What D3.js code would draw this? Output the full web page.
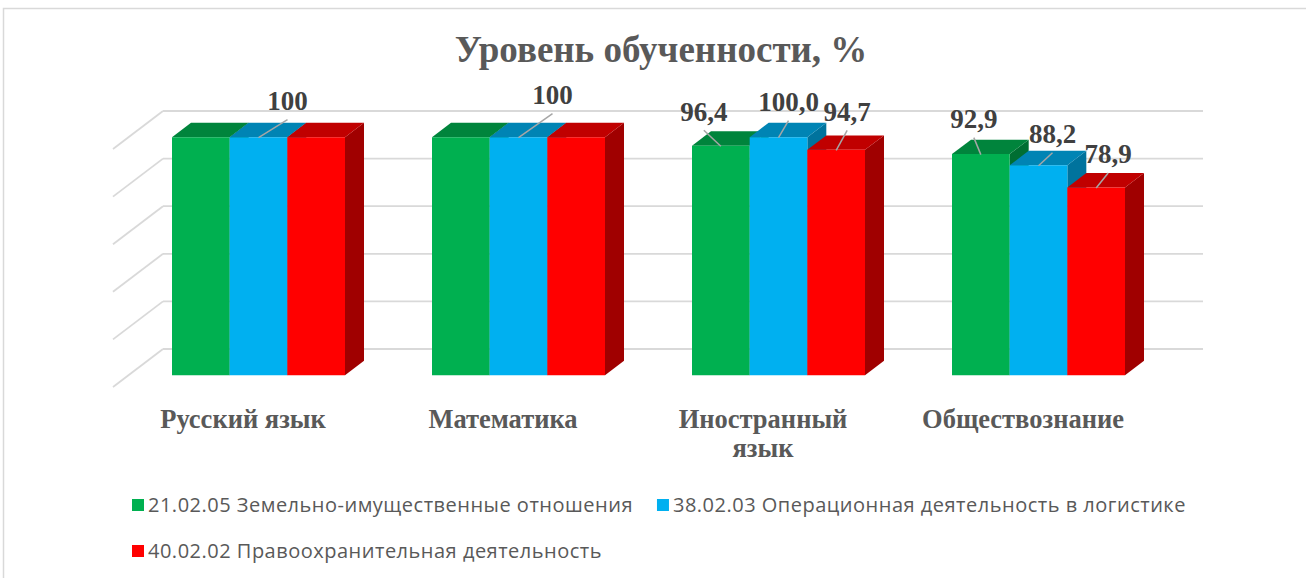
<!DOCTYPE html>
<html>
<head>
<meta charset="utf-8">
<script src="https://d3js.org/d3.v7.min.js"></script>
<style>
  body { margin: 0; background: #fff; }
</style>
</head>
<body>
<div id="my_dataviz"></div>
<script>

// data
var categories = ["Русский язык", "Математика", "Иностранный язык", "Обществознание"];
var seriesNames = [
  "21.02.05 Земельно-имущественные отношения",
  "38.02.03 Операционная деятельность в логистике",
  "40.02.02 Правоохранительная деятельность"
];
var zemelnye   = [100, 100, 96.4, 92.9];
var logistika  = [100, 100, 100.0, 88.2];
var pravo      = [100, 100, 94.7, 78.9];
// text of the data labels (only some bars carry one)
var labelText = [
  [null, "100", null],
  [null, "100", null],
  ["96,4", "100,0", "94,7"],
  ["92,9", "88,2", "78,9"]
];
var yTicks = [0, 20, 40, 60, 80, 100];

// layout: where the leader line of each label ends, relative to the bar top
var labelNudge = [
  [null, [29, -18], null],
  [null, [34, -24], null],
  [[-17, -16], [10, -17], [11, -20]],
  [[-7, -17], [14, -13], [12, -15]]
];

var colors = [
  {front: "#00b050", top: "#00843c", side: "#006e32"},
  {front: "#00b0f0", top: "#0084b4", side: "#00739d"},
  {front: "#ff0000", top: "#c00000", side: "#a00000"}
];

var width = 1306, height = 578;
var depth = {dx: 50, dy: -38};    // whole floor depth, front to back wall
var barT0 = 0.31, barT1 = 0.69;     // bars sit in the middle of the depth

var svg = d3.select("#my_dataviz")
  .append("svg")
    .attr("width", width)
    .attr("height", height);

// chart border (only top and left show in the crop)
svg.append("rect")
  .attr("x", 3.5).attr("y", 8.5)
  .attr("width", 1320).attr("height", 600)
  .attr("fill", "white")
  .attr("stroke", "#d9d9d9")
  .attr("stroke-width", 1.5);

// scales on the front plane of the floor
var x = d3.scaleBand()
  .domain(categories)
  .range([113, 1153]);

var xInner = d3.scaleBand()
  .domain([0, 1, 2])
  .range([43.5, 216.5]);

var y = d3.scaleLinear()
  .domain([0, 100])
  .range([387, 149]);

function pt(px, py, t) { return [px + t * depth.dx, py + t * depth.dy]; }

// gridlines: back wall and left wall
var grid = svg.append("g");
yTicks.forEach(function(v) {
  var back0 = pt(x.range()[0], y(v), 1);
  var back1 = pt(x.range()[1], y(v), 1);
  grid.append("line")
    .attr("x1", back0[0]).attr("y1", back0[1])
    .attr("x2", back1[0]).attr("y2", back1[1])
    .attr("stroke", "#d9d9d9").attr("stroke-width", 1.8);
  grid.append("line")
    .attr("x1", x.range()[0]).attr("y1", y(v))
    .attr("x2", back0[0]).attr("y2", back0[1])
    .attr("stroke", "#d9d9d9").attr("stroke-width", 1.8);
});

var allSeries = [zemelnye, logistika, pravo];
var bars = [];
categories.forEach(function(c, i) {
  allSeries.forEach(function(s, j) {
    bars.push({cat: c, ci: i, si: j, value: s[i]});
  });
});

function poly(points) {
  return "M" + points.map(function(p) { return p[0] + "," + p[1]; }).join("L") + "Z";
}

var barG = svg.append("g");
bars.forEach(function(d) {
  var xl = x(d.cat) + xInner(d.si);
  var xr = xl + xInner.bandwidth();
  var yt = y(d.value), yb = y(0);
  var c = colors[d.si];
  var fl = pt(xl, yt, barT0), fr = pt(xr, yt, barT0);
  var fbl = pt(xl, yb, barT0), fbr = pt(xr, yb, barT0);
  var bl = pt(xl, yt, barT1), br = pt(xr, yt, barT1), bbr = pt(xr, yb, barT1);
  // right side
  barG.append("path").attr("d", poly([fr, br, bbr, fbr])).attr("fill", c.side);
  // top
  barG.append("path").attr("d", poly([fl, fr, br, bl])).attr("fill", c.top);
  // front
  barG.append("path").attr("d", poly([fl, fr, fbr, fbl])).attr("fill", c.front);
  d.frontTop = [(fl[0] + fr[0]) / 2, fl[1]];
});

// data labels with leader lines
var labG = svg.append("g");
bars.forEach(function(d) {
  var txt = labelText[d.ci][d.si];
  if (!txt) return;
  var n = labelNudge[d.ci][d.si];
  var sx = d.frontTop[0], sy = d.frontTop[1] + 0.5;
  var ex = sx + n[0], ey = sy + n[1];
  labG.append("line")
    .attr("x1", sx).attr("y1", sy)
    .attr("x2", ex).attr("y2", ey)
    .attr("stroke", "#a6a6a6").attr("stroke-width", 1.5);
  labG.append("text")
    .attr("x", ex).attr("y", ey - 9.5)
    .attr("text-anchor", "middle")
    .style("font-family", "'Liberation Serif', 'Times New Roman', serif")
    .style("font-weight", "bold")
    .style("font-size", "27px")
    .style("fill", "#404040")
    .text(txt);
});

// category labels (wrapped like the original)
var catLines = {
  "Русский язык": ["Русский язык"],
  "Математика": ["Математика"],
  "Иностранный язык": ["Иностранный", "язык"],
  "Обществознание": ["Обществознание"]
};
categories.forEach(function(c) {
  var t = svg.append("text")
    .attr("x", x(c) + x.bandwidth() / 2)
    .attr("y", 428)
    .attr("text-anchor", "middle")
    .style("font-family", "'Liberation Serif', 'Times New Roman', serif")
    .style("font-weight", "bold")
    .style("font-size", "26.5px")
    .style("fill", "#595959");
  catLines[c].forEach(function(line, k) {
    t.append("tspan")
      .attr("x", x(c) + x.bandwidth() / 2)
      .attr("dy", k === 0 ? 0 : 29)
      .text(line);
  });
});

// title
svg.append("text")
  .attr("x", 661)
  .attr("y", 62)
  .attr("text-anchor", "middle")
  .style("font-family", "'Liberation Serif', 'Times New Roman', serif")
  .style("font-weight", "bold")
  .style("font-size", "37px")
  .style("fill", "#595959")
  .text("Уровень обученности, %");

// legend, flowing left to right and wrapping
var legend = svg.append("g");
var lx = 132, ly = 499, maxX = 1215, rowH = 46;
seriesNames.forEach(function(name, j) {
  var g = legend.append("g");
  g.append("rect")
    .attr("width", 12).attr("height", 12)
    .attr("fill", colors[j].front);
  var t = g.append("text")
    .attr("x", 16).attr("y", 13)
    .style("font-family", "'Open Sans', sans-serif")
    .style("font-size", "20px")
    .style("letter-spacing", "0.5px")
    .style("fill", "#595959")
    .text(name);
  var w = 16 + t.node().getComputedTextLength();
  if (lx + w > maxX) { lx = 132; ly += rowH; }
  g.attr("transform", "translate(" + lx + "," + ly + ")");
  lx += w + 24;
});

</script>
</body>
</html>
